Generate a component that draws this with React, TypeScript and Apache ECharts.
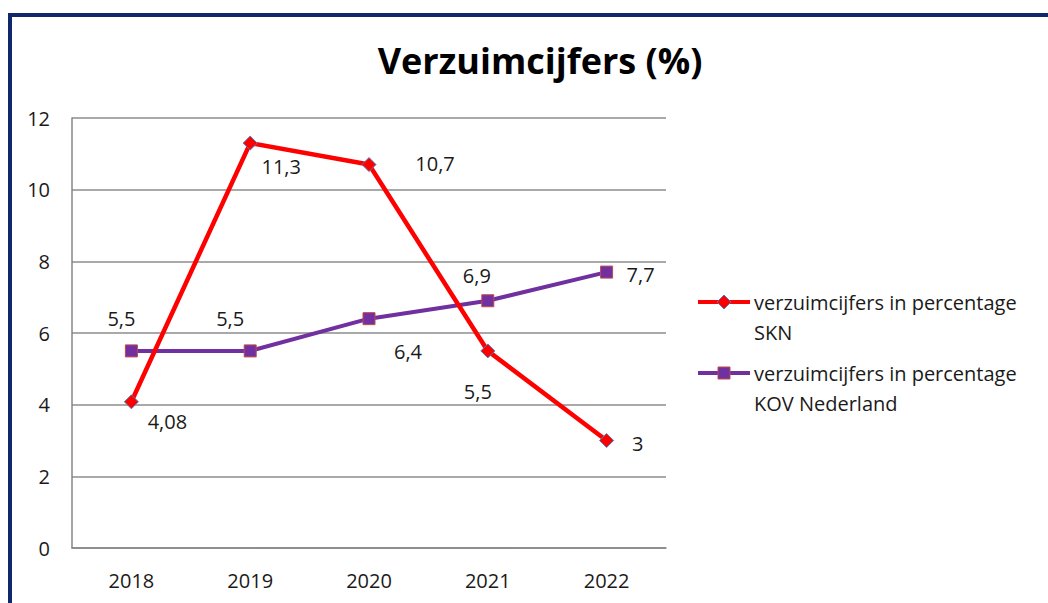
import React, { useEffect, useRef } from "react";
import * as echarts from "echarts";

const title = "Verzuimcijfers (%)";
const years = ["2018", "2019", "2020", "2021", "2022"];
const sknName = "verzuimcijfers in percentage SKN";
const kovName = "verzuimcijfers in percentage KOV Nederland";
const sknValues = [4.08, 11.3, 10.7, 5.5, 3];
const kovValues = [5.5, 5.5, 6.4, 6.9, 7.7];
const yTicks = [0, 2, 4, 6, 8, 10, 12];

// label offsets (styling, relative to the point)
const sknLabelOffsets = [[36, 20], [31, 23], [66, -1], [-10, 41], [31, 3]];
const kovLabelOffsets = [[-10, -32], [-20, -32], [39, 33], [-11, -25], [34, 2]];

const FONT = "'Open Sans', Lato, sans-serif";
const TXT = "#1a1a1a";
const RED = "#ff0000";
const PURPLE = "#7030a0";

const fmt = (v: number) => String(v).replace(".", ",");

export default function App() {
  const ref = useRef<HTMLDivElement>(null);
  useEffect(() => {
    if (!ref.current) return;
    const chart = echarts.init(ref.current, undefined, { renderer: "svg" });
    const mk = (vals: number[], offs: number[][]) =>
      vals.map((v, i) => ({
        value: v,
        label: { offset: offs[i] },
      }));
    const labelBase = {
      show: true,
      position: "inside",
      color: TXT,
      fontFamily: FONT,
      fontSize: 20,
      formatter: (p: any) => fmt(p.value),
    };
    const legendItems = [
      { name: sknName, color: RED, symbol: "diamond", y: 302 },
      { name: kovName, color: PURPLE, symbol: "square", y: 373 },
    ];
    const legendGraphics: any[] = [];
    legendItems.forEach((it) => {
      legendGraphics.push({
        type: "line",
        shape: { x1: 698, y1: it.y, x2: 750, y2: it.y },
        style: { stroke: it.color, lineWidth: 4 },
      });
      if (it.symbol === "diamond") {
        legendGraphics.push({
          type: "polygon",
          shape: { points: [[724, it.y - 7], [731, it.y], [724, it.y + 7], [717, it.y]] },
          style: { fill: RED, stroke: "#4a7ebb", lineWidth: 1 },
        });
      } else {
        legendGraphics.push({
          type: "rect",
          shape: { x: 718, y: it.y - 6, width: 12, height: 12 },
          style: { fill: PURPLE, stroke: "#be4b48", lineWidth: 1 },
        });
      }
      const words = it.name.split(" ");
      const first = words.slice(0, 3).join(" ");
      const second = words.slice(3).join(" ");
      legendGraphics.push({
        type: "text",
        x: 754,
        y: it.y - 15,
        style: {
          text: first + "\n" + second,
          fill: TXT,
          font: `20px ${FONT}`,
          lineHeight: 30,
          verticalAlign: "top",
        },
      });
    });

    chart.setOption({
      animation: false,
      backgroundColor: "#ffffff",
      title: {
        text: title,
        left: 535,
        textAlign: "center",
        top: 37,
        textStyle: { fontFamily: FONT, fontSize: 36, fontWeight: "bold", color: "#000" },
      },
      grid: { left: 72, top: 118, width: 594, height: 430, containLabel: false, show: false },
      xAxis: {
        type: "category",
        data: years,
        boundaryGap: true,
        axisLine: { lineStyle: { color: "#868686", width: 1.5 } },
        axisTick: { show: false },
        axisLabel: { color: TXT, fontFamily: FONT, fontSize: 20, margin: 22 },
      },
      yAxis: {
        type: "value",
        min: yTicks[0],
        max: yTicks[yTicks.length - 1],
        interval: 2,
        axisLine: { show: true, lineStyle: { color: "#868686", width: 1.5 } },
        axisTick: { show: false },
        splitLine: { lineStyle: { color: "#8c8c8c", width: 1.5 } },
        axisLabel: { color: TXT, fontFamily: FONT, fontSize: 20, margin: 22 },
      },
      graphic: [
        {
          type: "rect",
          shape: { x: 10, y: 15, width: 1200, height: 800 },
          style: { fill: "none", stroke: "#10276b", lineWidth: 4 },
          z: 100,
        },
        ...legendGraphics,
      ],
      series: [
        {
          name: kovName,
          type: "line",
          data: mk(kovValues, kovLabelOffsets),
          lineStyle: { color: PURPLE, width: 4 },
          itemStyle: { color: PURPLE, borderColor: "#be4b48", borderWidth: 1 },
          symbol: "rect",
          symbolSize: 12,
          label: labelBase,
          z: 2,
        },
        {
          name: sknName,
          type: "line",
          data: mk(sknValues, sknLabelOffsets),
          lineStyle: { color: RED, width: 4.5 },
          itemStyle: { color: RED, borderColor: "#4a7ebb", borderWidth: 1 },
          symbol: "diamond",
          symbolSize: 14,
          label: labelBase,
          z: 3,
        },
      ],
    });
    return () => chart.dispose();
  }, []);
  return (
    <div
      ref={ref}
      style={{ position: "fixed", left: 0, top: 0, width: 1048, height: 603, background: "#fff" }}
    />
  );
}
